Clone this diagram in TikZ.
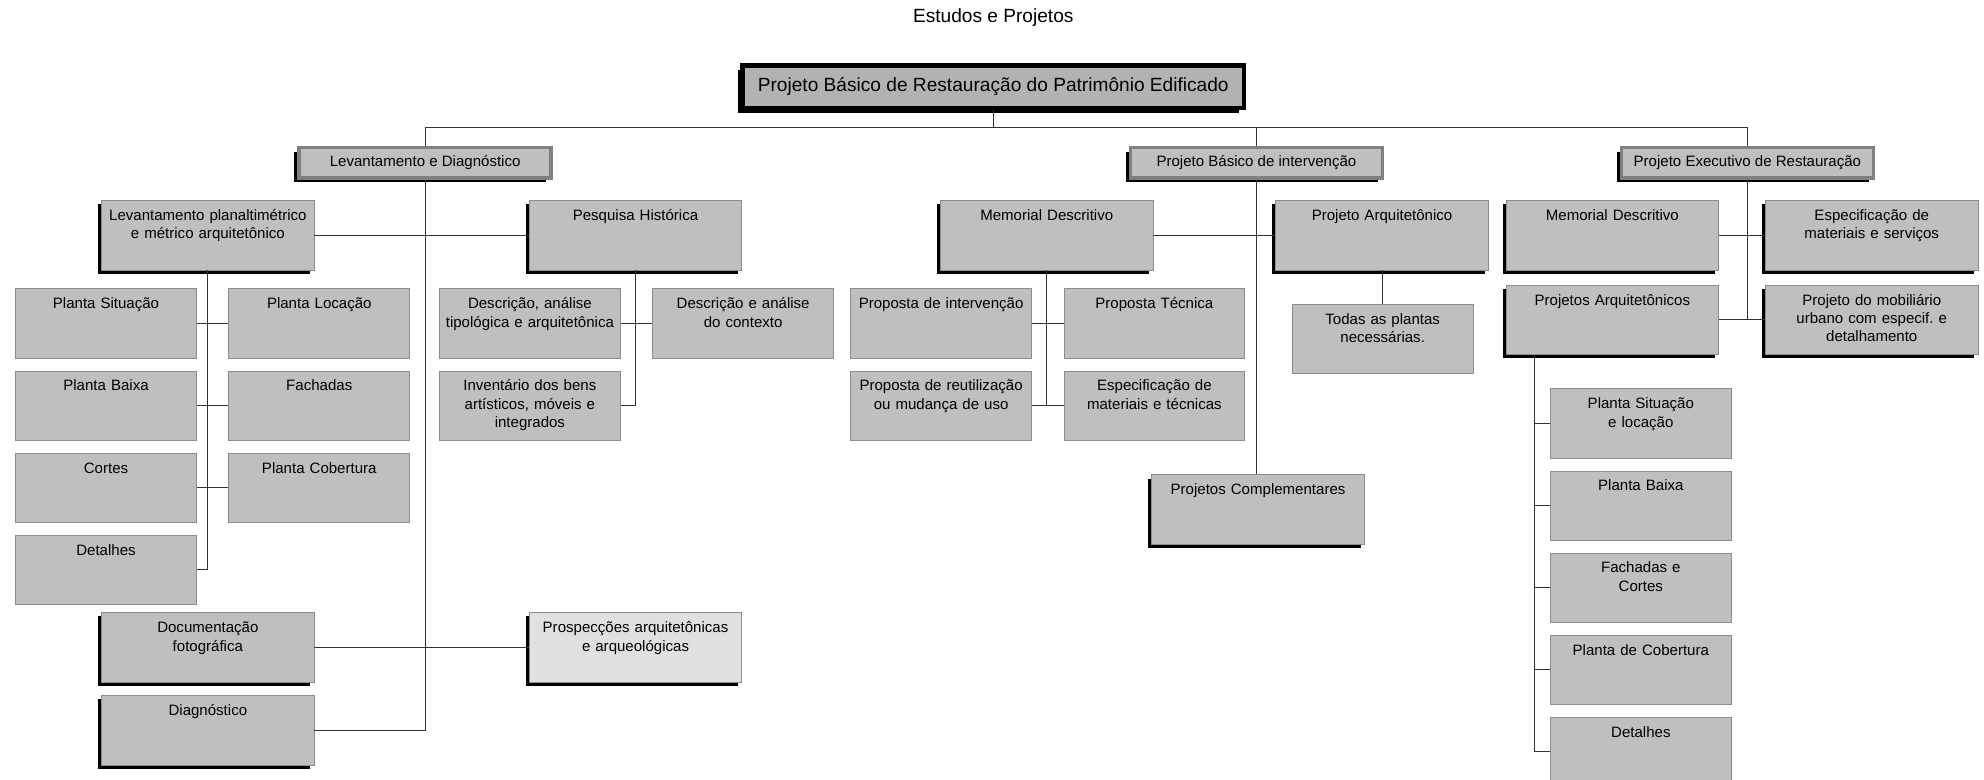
\documentclass[tikz,border=0pt]{standalone}
\usepackage{fontspec}
\setmainfont{Liberation Sans}
\usepackage{tikz}
\usetikzlibrary{positioning,shadows,calc}
\newcommand{\cellfont}{\fontsize{10.7}{13}\selectfont}
\newcommand{\bigfont}{\fontsize{13.6}{16}\selectfont}
\tikzset{
  cellbox/.style={
    rectangle,
    draw=black!45,
    line width=0.6pt,
    fill=black!25,
    font=\cellfont,
    align=center,
    anchor=north west,
    inner xsep=0.4mm,
    inner ysep=0pt,
    text width=44.4mm,
    text height=5mm,
    text depth=12.4mm
  },
  shadebox/.style={
    cellbox,
    text width=52.3mm,
    drop shadow={shadow xshift=-0.9mm, shadow yshift=-0.9mm, fill=black, opacity=1}
  },
  headbox/.style={
    rectangle,
    draw=black!50,
    line width=2.6pt,
    fill=black!25,
    font=\cellfont,
    minimum width=63mm,
    minimum height=7.6mm,
    drop shadow={shadow xshift=-1.2mm, shadow yshift=-1.1mm, fill=black, opacity=1}
  },
  rootbox/.style={
    rectangle,
    draw=black,
    line width=3pt,
    fill=black!30,
    font=\bigfont,
    minimum width=125.4mm,
    minimum height=10.6mm,
    drop shadow={shadow xshift=-1.2mm, shadow yshift=-1.2mm, fill=black, opacity=1}
  },
  linkline/.style={draw=black!80, line width=0.8pt}
}
\begin{document}
\begin{tikzpicture}[x=0.3163mm, y=-0.3163mm, node distance=2.9mm and 7.9mm]
  \useasboundingbox (0,0) rectangle (1568,616);
  \clip (0,0) rectangle (1568,616);
  \node[font=\bigfont] (title) at (785,14) {Estudos e Projetos};
  \node[rootbox] (root) at (785,68.5) {Projeto Básico de Restauração do Patrimônio Edificado};
  \node[headbox] (levdiag) at (336,128.5) {Levantamento e Diagnóstico};
  \node[headbox] (basint) at (993,128.5) {Projeto Básico de intervenção};
  \node[headbox] (exec) at (1381,128.5) {Projeto Executivo de Restauração};
  \coordinate (bus) at (785,101);

  % Levantamento e Diagnostico
  \node[shadebox] (levplan) at (80,158) {Levantamento planaltimétrico\\e métrico arquitetônico};
  \node[shadebox] (pesq) at (418,158) {Pesquisa Histórica};
  \node[cellbox] (sit1) at (12,228) {Planta Situação};
  \node[cellbox, right=of sit1] (loc1) {Planta Locação};
  \node[cellbox, below=of sit1] (baixa1) {Planta Baixa};
  \node[cellbox, right=of baixa1] (fach1) {Fachadas};
  \node[cellbox, below=of baixa1] (cortes1) {Cortes};
  \node[cellbox, right=of cortes1] (cob1) {Planta Cobertura};
  \node[cellbox, below=of cortes1] (det1) {Detalhes};
  \node[cellbox] (desc) at (347,228) {Descrição, análise\\tipológica e arquitetônica};
  \node[cellbox, right=of desc] (ctx) {Descrição e análise\\do contexto};
  \node[cellbox, below=of desc] (inv) {Inventário dos bens\\artísticos, móveis e\\integrados};
  \node[shadebox] (doc) at (80,484) {Documentação\\fotográfica};
  \node[shadebox, below=3.1mm of doc] (diag) {Diagnóstico};
  \node[shadebox, fill=black!12] (prosp) at (418,484) {Prospecções arquitetônicas\\e arqueológicas};

  % Projeto Basico de intervencao
  \node[shadebox] (memo) at (743,158) {Memorial Descritivo};
  \node[shadebox] (arq) at (1008,158) {Projeto Arquitetônico};
  \node[cellbox] (propint) at (672,228) {Proposta de intervenção};
  \node[cellbox, right=of propint] (proptec) {Proposta Técnica};
  \node[cellbox, below=of propint] (reut) {Proposta de reutilização\\ou mudança de uso};
  \node[cellbox, below=of proptec] (espec) {Especificação de\\materiais e técnicas};
  \node[cellbox] (todas) at (1021,240) {Todas as plantas\\necessárias.};
  \node[shadebox] (compl) at (910,375) {Projetos Complementares};

  % Projeto Executivo de Restauracao
  \node[shadebox] (memo2) at (1190,158) {Memorial Descritivo};
  \node[shadebox] (espserv) at (1395,158) {Especificação de\\materiais e serviços};
  \node[shadebox] (projarq) at (1190,225) {Projetos Arquitetônicos};
  \node[shadebox] (mobil) at (1395,225) {Projeto do mobiliário\\urbano com especif.\ e\\detalhamento};
  \node[cellbox] (sit2) at (1225,307) {Planta Situação\\e locação};
  \node[cellbox, below=of sit2] (baixa2) {Planta Baixa};
  \node[cellbox, below=of baixa2] (fach2) {Fachadas e\\Cortes};
  \node[cellbox, below=of fach2] (cob2) {Planta de Cobertura};
  \node[cellbox, below=of cob2] (det2) {Detalhes};
  \coordinate (rtrunk) at ($(projarq.south west)+(23,0)$);

  \draw[linkline] (root.south) -- (root.south |- bus);
  \draw[linkline] (levdiag.north) |- (bus) -| (exec.north);
  \draw[linkline] (basint.north) -- (basint.north |- bus);

  \draw[linkline] (levdiag.south) |- (diag.east);
  \draw[linkline] (levplan.east) -- (pesq.west);
  \draw[linkline] (doc.east) -- (prosp.west);
  \draw[linkline] (levplan.south) |- (det1.east);
  \draw[linkline] (sit1.east) -- (loc1.west);
  \draw[linkline] (baixa1.east) -- (fach1.west);
  \draw[linkline] (cortes1.east) -- (cob1.west);
  \draw[linkline] (pesq.south) |- (inv.east);
  \draw[linkline] (desc.east) -- (ctx.west);

  \draw[linkline] (basint.south) -- (basint.south |- compl.north);
  \draw[linkline] (memo.east) -- (arq.west);
  \draw[linkline] (memo.south) -- (memo.south |- reut.east);
  \draw[linkline] (propint.east) -- (proptec.west);
  \draw[linkline] (reut.east) -- (espec.west);
  \draw[linkline] (arq.south -| todas.north) -- (todas.north);

  \draw[linkline] (exec.south) -- (exec.south |- projarq.east);
  \draw[linkline] (memo2.east) -- (espserv.west);
  \draw[linkline] (projarq.east) -- (mobil.west);
  \draw[linkline] (rtrunk) |- (det2.west);
  \foreach \n in {sit2,baixa2,fach2,cob2}
    \draw[linkline] (\n.west) -- (\n.west -| rtrunk);
\end{tikzpicture}
\end{document}
